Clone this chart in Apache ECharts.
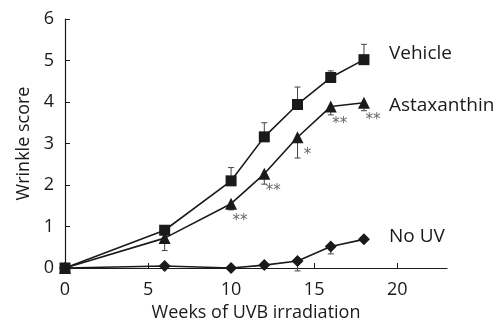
<!DOCTYPE html>
<html>
<head>
<meta charset="utf-8">
<script src="https://cdn.jsdelivr.net/npm/echarts@6/dist/echarts.min.js"></script>
<style>
  html, body { margin: 0; padding: 0; background: #fff; }
  #chart { width: 495px; height: 322px; }
</style>
</head>
<body>
<div id="chart"></div>
<script>
// Weeks of UVB exposure at which wrinkle scores were taken
const weeks = [0, 6, 10, 12, 14, 16, 18];

// Mean wrinkle score per group
const vehicle     = [0, 0.91, 2.10, 3.16, 3.94, 4.59, 5.02];
const astaxanthin = [0, 0.72, 1.55, 2.27, 3.15, 3.89, 3.98];
const noUV        = [0, 0.05, 0.00, 0.07, 0.17, 0.52, 0.69];

// One-sided error bars (Vehicle upward, the other groups downward)
const vehicleErr     = [0, 0.04, 0.32, 0.34, 0.42, 0.16, 0.37];
const astaxanthinErr = [0, 0.30, 0.15, 0.25, 0.50, 0.20, 0.19];
const noUVErr        = [0, 0.04, 0.00, 0.06, 0.24, 0.18, 0.00];

// Significance vs. Vehicle
const sigMarks = ['', '', '**', '**', '*', '**', '**'];

const xTicks = [0, 5, 10, 15, 20];
const yTicks = [0, 1, 2, 3, 4, 5, 6];

const FONT = 'Open Sans';
const INK = '#1a1a1a';

const chart = echarts.init(document.getElementById('chart'), null, { renderer: 'canvas' });

function pairs(vals) {
  return weeks.map((w, i) => [w, vals[i]]);
}

function errorSeries(vals, errs, dir) {
  return {
    type: 'custom',
    silent: true,
    z: 1,
    data: weeks.map((w, i) => [w, vals[i], vals[i] + dir * errs[i]]),
    renderItem(params, api) {
      const err = api.value(2) - api.value(1);
      if (Math.abs(err) < 1e-6) return null;
      const p0 = api.coord([api.value(0), api.value(1)]);
      const p1 = api.coord([api.value(0), api.value(2)]);
      const cap = 3;
      const style = { stroke: '#444', lineWidth: 1 };
      return {
        type: 'group',
        children: [
          { type: 'line', shape: { x1: p0[0], y1: p0[1], x2: p1[0], y2: p1[1] }, style },
          { type: 'line', shape: { x1: p1[0] - cap, y1: p1[1], x2: p1[0] + cap, y2: p1[1] }, style }
        ]
      };
    }
  };
}

function lineSeries(name, vals, symbol, size, endOffset) {
  return {
    name,
    type: 'line',
    data: pairs(vals),
    symbol,
    symbolSize: size,
    z: 3,
    lineStyle: { color: INK, width: 1.6 },
    itemStyle: { color: INK },
    endLabel: {
      show: true,
      formatter: name,
      color: INK,
      fontFamily: FONT,
      fontSize: 19,
      distance: 25,
      offset: endOffset
    }
  };
}

const astaSeries = lineSeries('Astaxanthin', astaxanthin, 'triangle', 12, [0, 3]);
astaSeries.data = weeks.map((w, i) => ({
  value: [w, astaxanthin[i]],
  label: {
    show: sigMarks[i] !== '',
    formatter: sigMarks[i],
    position: 'bottom',
    offset: [sigMarks[i].length === 1 ? 10 : 9, -1],
    color: '#666',
    fontFamily: 'DejaVu Sans',
    fontSize: 15
  }
}));

const option = {
  animation: false,
  backgroundColor: '#fff',
  grid: { left: 65, right: 48, top: 19, bottom: 54, outerBoundsMode: 'none', containLabel: false },
  xAxis: {
    type: 'value',
    min: 0,
    max: 23,
    name: 'Weeks of UVB irradiation',
    nameLocation: 'middle',
    nameGap: 35,
    nameTextStyle: { color: INK, fontFamily: FONT, fontSize: 18 },
    axisLine: { lineStyle: { color: INK, width: 1.2 } },
    axisTick: { inside: true, length: 5, customValues: xTicks, lineStyle: { color: INK } },
    axisLabel: { customValues: xTicks, color: INK, fontFamily: FONT, fontSize: 18, margin: 13 },
    splitLine: { show: false }
  },
  yAxis: {
    type: 'value',
    min: 0,
    max: 6,
    interval: 1,
    name: 'Wrinkle score',
    nameLocation: 'middle',
    nameGap: 32,
    nameTextStyle: { color: INK, fontFamily: FONT, fontSize: 18 },
    axisLine: { show: true, lineStyle: { color: INK, width: 1.2 } },
    axisTick: { show: true, inside: true, length: 5, customValues: yTicks, lineStyle: { color: INK } },
    axisLabel: { customValues: yTicks, color: INK, fontFamily: FONT, fontSize: 18, margin: 11 },
    splitLine: { show: false }
  },
  series: [
    errorSeries(vehicle, vehicleErr, 1),
    errorSeries(astaxanthin, astaxanthinErr, -1),
    errorSeries(noUV, noUVErr, -1),
    lineSeries('Vehicle', vehicle, 'rect', 11, [0, -6]),
    astaSeries,
    lineSeries('No UV', noUV, 'diamond', 12, [0, -3])
  ]
};

chart.setOption(option);
</script>
</body>
</html>
